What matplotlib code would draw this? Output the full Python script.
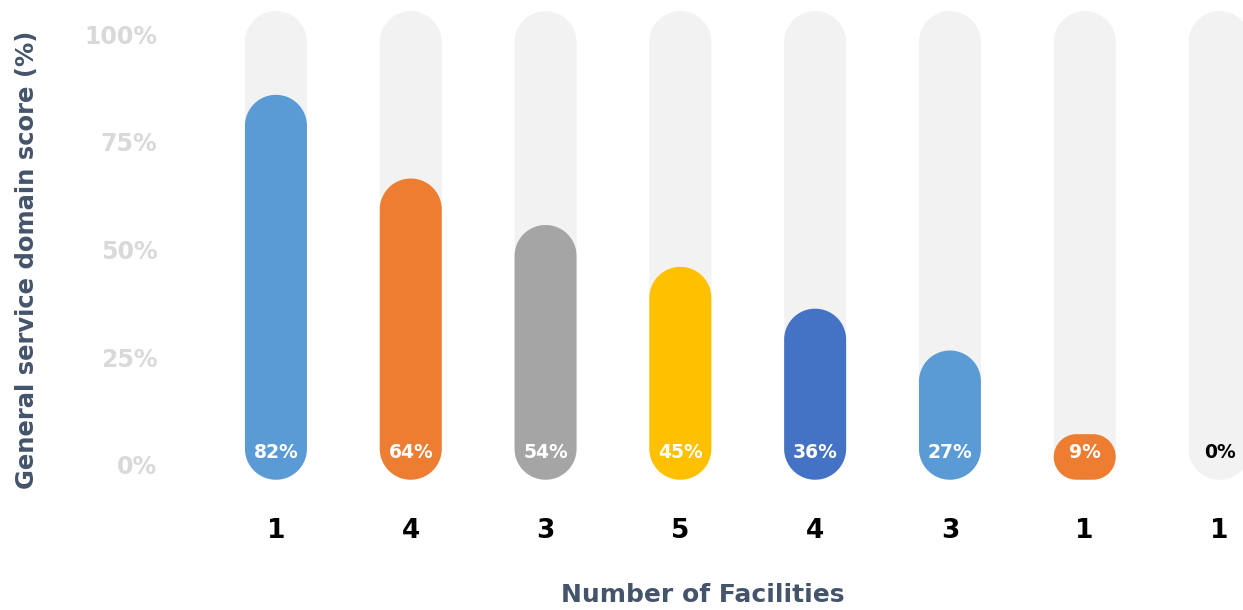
import numpy as np
import matplotlib.pyplot as plt
from matplotlib.patches import Polygon

# Data
scores = [82, 64, 54, 45, 36, 27, 9, 0]
facilities = ['1', '4', '3', '5', '4', '3', '1', '1']
bar_colors = ['#5b9bd5', '#ed7d31', '#a5a5a5', '#ffc000', '#4472c4', '#5b9bd5', '#ed7d31', '#a5a5a5']
label_colors = ['white'] * 7 + ['black']
tick_labels = ['0%', '25%', '50%', '75%', '100%']

# Layout
W, H = 1243, 610
BASE = -0.8          # bottom of the pills
TRACK_TOP = 100
BAR_W = 0.46
XLIM = (-0.786, 7.174)
YLIM = (-5.16, 102.4)
AX_RECT = [170 / W, 110 / H, 1073 / W, 500 / H]
# tick marks sit a bit off the bar scale in the original
tick_pos = [2.37 + 0.927 * t for t in (0, 25, 50, 75, 100)]

FONT = 'DejaVu Sans'
AXIS_COLOR = '#44546a'

fig = plt.figure(figsize=(W / 100, H / 100), dpi=100)
ax = fig.add_axes(AX_RECT)
ax.set_xlim(*XLIM)
ax.set_ylim(*YLIM)

# pixel scales, to keep the round ends circular
xpx = AX_RECT[2] * W / (XLIM[1] - XLIM[0])
ypx = AX_RECT[3] * H / (YLIM[1] - YLIM[0])


def pill(x, y0, y1, color):
    # rounded rectangle, radius = half the shorter side (in pixels)
    w_px = BAR_W * xpx
    h_px = (y1 - y0) * ypx
    r = min(w_px, h_px) / 2
    rx, ry = r / xpx, r / ypx
    l, rt = x - BAR_W / 2, x + BAR_W / 2
    t = np.linspace(0, np.pi / 2, 30)
    pts = []
    # top right, top left, bottom left, bottom right corners
    for cx, cy, a0 in [(rt - rx, y1 - ry, 0), (l + rx, y1 - ry, np.pi / 2),
                       (l + rx, y0 + ry, np.pi), (rt - rx, y0 + ry, 1.5 * np.pi)]:
        a = a0 + t
        pts += list(zip(cx + rx * np.cos(a), cy + ry * np.sin(a)))
    ax.add_patch(Polygon(pts, closed=True, fc=color, ec='none', clip_on=False))


x = np.arange(len(scores))
for i, v in enumerate(scores):
    pill(x[i], BASE, TRACK_TOP, '#f2f2f2')
    if v > 0:
        pill(x[i], BASE, v, bar_colors[i])
    ax.text(x[i], 5.0, f'{v}%', ha='center', va='center', fontsize=13.5,
            fontweight='bold', color=label_colors[i], family=FONT)

ax.set_yticks(tick_pos)
ax.set_yticklabels(tick_labels, fontsize=17, fontweight='bold', color='#d9d9d9', family=FONT)
ax.set_xticks(x)
ax.set_xticklabels(facilities, fontsize=19, fontweight='bold', color='black', family=FONT)
ax.tick_params(axis='y', length=0, pad=9)
ax.tick_params(axis='x', length=0, pad=13)
for s in ax.spines.values():
    s.set_visible(False)

fig.text(703 / W, 1 - 595 / H, 'Number of Facilities', ha='center', va='center',
         fontsize=18, fontweight='bold', color=AXIS_COLOR, family=FONT)
fig.text(27 / W, 1 - 260 / H, 'General service domain score (%)', ha='center', va='center',
         rotation=90, fontsize=17.5, fontweight='bold', color=AXIS_COLOR, family=FONT)

fig.savefig('out.png', dpi=100)
